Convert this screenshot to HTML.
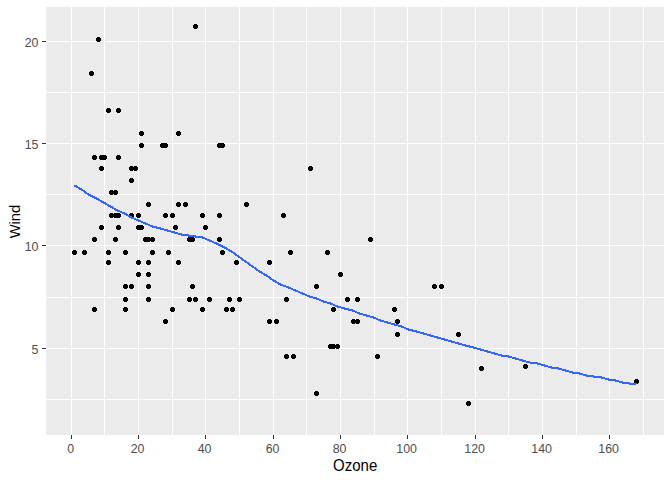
<!DOCTYPE html><html><head><meta charset="utf-8"><style>html,body{margin:0;padding:0;background:#fff}svg{display:block}text{font-family:"Liberation Sans",sans-serif}</style></head><body>
<svg width="672" height="480" viewBox="0 0 672 480">
<rect width="672" height="480" fill="#fff"/>
<rect x="46.0" y="7.00" width="618.00" height="428.00" fill="#EBEBEB" shape-rendering="crispEdges"/>
<g fill="#fff" shape-rendering="crispEdges">
<rect x="71" y="7" width="1" height="428"/>
<rect x="104" y="7" width="1" height="428"/>
<rect x="138" y="7" width="1" height="428"/>
<rect x="172" y="7" width="1" height="428"/>
<rect x="205" y="7" width="1" height="428"/>
<rect x="239" y="7" width="1" height="428"/>
<rect x="273" y="7" width="1" height="428"/>
<rect x="306" y="7" width="1" height="428"/>
<rect x="340" y="7" width="1" height="428"/>
<rect x="374" y="7" width="1" height="428"/>
<rect x="407" y="7" width="1" height="428"/>
<rect x="441" y="7" width="1" height="428"/>
<rect x="475" y="7" width="1" height="428"/>
<rect x="508" y="7" width="1" height="428"/>
<rect x="542" y="7" width="1" height="428"/>
<rect x="576" y="7" width="1" height="428"/>
<rect x="609" y="7" width="1" height="428"/>
<rect x="643" y="7" width="1" height="428"/>
<rect x="46" y="399" width="618" height="1"/>
<rect x="46" y="348" width="618" height="1"/>
<rect x="46" y="297" width="618" height="1"/>
<rect x="46" y="245" width="618" height="1"/>
<rect x="46" y="194" width="618" height="1"/>
<rect x="46" y="143" width="618" height="1"/>
<rect x="46" y="92" width="618" height="1"/>
<rect x="46" y="41" width="618" height="1"/>
</g>
<g fill="#000" shape-rendering="crispEdges">
<path d="M208 297h3v1h1v3h-1v1h-3v-1h-1v-3h1zM191 284h3v1h1v3h-1v1h-3v-1h-1v-3h1zM110 190h3v1h1v3h-1v1h-3v-1h-1v-3h1zM130 213h3v1h1v3h-1v1h-3v-1h-1v-3h1zM164 143h3v1h1v3h-1v1h-3v-1h-1v-3h1zM147 272h3v1h1v3h-1v1h-3v-1h-1v-3h1zM134 166h3v1h1v3h-1v1h-3v-1h-1v-3h1zM97 37h3v1h1v3h-1v1h-3v-1h-1v-3h1zM93 307h3v1h1v3h-1v1h-3v-1h-1v-3h1zM124 250h3v1h1v3h-1v1h-3v-1h-1v-3h1zM107 260h3v1h1v3h-1v1h-3v-1h-1v-3h1zM117 225h3v1h1v3h-1v1h-3v-1h-1v-3h1zM130 178h3v1h1v3h-1v1h-3v-1h-1v-3h1zM117 213h3v1h1v3h-1v1h-3v-1h-1v-3h1zM184 202h3v1h1v3h-1v1h-3v-1h-1v-3h1zM90 71h3v1h1v3h-1v1h-3v-1h-1v-3h1zM171 213h3v1h1v3h-1v1h-3v-1h-1v-3h1zM107 250h3v1h1v3h-1v1h-3v-1h-1v-3h1zM73 250h3v1h1v3h-1v1h-3v-1h-1v-3h1zM107 108h3v1h1v3h-1v1h-3v-1h-1v-3h1zM83 250h3v1h1v3h-1v1h-3v-1h-1v-3h1zM177 202h3v1h1v3h-1v1h-3v-1h-1v-3h1zM147 202h3v1h1v3h-1v1h-3v-1h-1v-3h1zM221 143h3v1h1v3h-1v1h-3v-1h-1v-3h1zM457 332h3v1h1v3h-1v1h-3v-1h-1v-3h1zM194 297h3v1h1v3h-1v1h-3v-1h-1v-3h1zM167 250h3v1h1v3h-1v1h-3v-1h-1v-3h1zM309 166h3v1h1v3h-1v1h-3v-1h-1v-3h1zM201 213h3v1h1v3h-1v1h-3v-1h-1v-3h1zM147 284h3v1h1v3h-1v1h-3v-1h-1v-3h1zM140 143h3v1h1v3h-1v1h-3v-1h-1v-3h1zM194 24h3v1h1v3h-1v1h-3v-1h-1v-3h1zM137 260h3v1h1v3h-1v1h-3v-1h-1v-3h1zM110 213h3v1h1v3h-1v1h-3v-1h-1v-3h1zM114 237h3v1h1v3h-1v1h-3v-1h-1v-3h1zM524 364h3v1h1v3h-1v1h-3v-1h-1v-3h1zM235 260h3v1h1v3h-1v1h-3v-1h-1v-3h1zM177 260h3v1h1v3h-1v1h-3v-1h-1v-3h1zM285 354h3v1h1v3h-1v1h-3v-1h-1v-3h1zM204 225h3v1h1v3h-1v1h-3v-1h-1v-3h1zM329 344h3v1h1v3h-1v1h-3v-1h-1v-3h1zM396 319h3v1h1v3h-1v1h-3v-1h-1v-3h1zM396 332h3v1h1v3h-1v1h-3v-1h-1v-3h1zM356 297h3v1h1v3h-1v1h-3v-1h-1v-3h1zM103 155h3v1h1v3h-1v1h-3v-1h-1v-3h1zM161 143h3v1h1v3h-1v1h-3v-1h-1v-3h1zM93 155h3v1h1v3h-1v1h-3v-1h-1v-3h1zM231 307h3v1h1v3h-1v1h-3v-1h-1v-3h1zM188 237h3v1h1v3h-1v1h-3v-1h-1v-3h1zM275 319h3v1h1v3h-1v1h-3v-1h-1v-3h1zM336 344h3v1h1v3h-1v1h-3v-1h-1v-3h1zM282 213h3v1h1v3h-1v1h-3v-1h-1v-3h1zM124 307h3v1h1v3h-1v1h-3v-1h-1v-3h1zM339 272h3v1h1v3h-1v1h-3v-1h-1v-3h1zM433 284h3v1h1v3h-1v1h-3v-1h-1v-3h1zM137 272h3v1h1v3h-1v1h-3v-1h-1v-3h1zM245 202h3v1h1v3h-1v1h-3v-1h-1v-3h1zM346 297h3v1h1v3h-1v1h-3v-1h-1v-3h1zM238 297h3v1h1v3h-1v1h-3v-1h-1v-3h1zM285 297h3v1h1v3h-1v1h-3v-1h-1v-3h1zM268 260h3v1h1v3h-1v1h-3v-1h-1v-3h1zM201 307h3v1h1v3h-1v1h-3v-1h-1v-3h1zM100 166h3v1h1v3h-1v1h-3v-1h-1v-3h1zM124 297h3v1h1v3h-1v1h-3v-1h-1v-3h1zM332 307h3v1h1v3h-1v1h-3v-1h-1v-3h1zM188 297h3v1h1v3h-1v1h-3v-1h-1v-3h1zM292 354h3v1h1v3h-1v1h-3v-1h-1v-3h1zM480 366h3v1h1v3h-1v1h-3v-1h-1v-3h1zM369 237h3v1h1v3h-1v1h-3v-1h-1v-3h1zM440 284h3v1h1v3h-1v1h-3v-1h-1v-3h1zM218 213h3v1h1v3h-1v1h-3v-1h-1v-3h1zM164 213h3v1h1v3h-1v1h-3v-1h-1v-3h1zM289 250h3v1h1v3h-1v1h-3v-1h-1v-3h1zM144 237h3v1h1v3h-1v1h-3v-1h-1v-3h1zM268 319h3v1h1v3h-1v1h-3v-1h-1v-3h1zM147 297h3v1h1v3h-1v1h-3v-1h-1v-3h1zM174 225h3v1h1v3h-1v1h-3v-1h-1v-3h1zM218 237h3v1h1v3h-1v1h-3v-1h-1v-3h1zM140 131h3v1h1v3h-1v1h-3v-1h-1v-3h1zM100 155h3v1h1v3h-1v1h-3v-1h-1v-3h1zM221 250h3v1h1v3h-1v1h-3v-1h-1v-3h1zM635 379h3v1h1v3h-1v1h-3v-1h-1v-3h1zM315 284h3v1h1v3h-1v1h-3v-1h-1v-3h1zM326 250h3v1h1v3h-1v1h-3v-1h-1v-3h1zM467 401h3v1h1v3h-1v1h-3v-1h-1v-3h1zM352 319h3v1h1v3h-1v1h-3v-1h-1v-3h1zM356 319h3v1h1v3h-1v1h-3v-1h-1v-3h1zM393 307h3v1h1v3h-1v1h-3v-1h-1v-3h1zM332 344h3v1h1v3h-1v1h-3v-1h-1v-3h1zM315 391h3v1h1v3h-1v1h-3v-1h-1v-3h1zM376 354h3v1h1v3h-1v1h-3v-1h-1v-3h1zM228 297h3v1h1v3h-1v1h-3v-1h-1v-3h1zM177 131h3v1h1v3h-1v1h-3v-1h-1v-3h1zM137 225h3v1h1v3h-1v1h-3v-1h-1v-3h1zM147 237h3v1h1v3h-1v1h-3v-1h-1v-3h1zM140 225h3v1h1v3h-1v1h-3v-1h-1v-3h1zM151 250h3v1h1v3h-1v1h-3v-1h-1v-3h1zM218 143h3v1h1v3h-1v1h-3v-1h-1v-3h1zM164 319h3v1h1v3h-1v1h-3v-1h-1v-3h1zM100 225h3v1h1v3h-1v1h-3v-1h-1v-3h1zM114 213h3v1h1v3h-1v1h-3v-1h-1v-3h1zM225 307h3v1h1v3h-1v1h-3v-1h-1v-3h1zM130 166h3v1h1v3h-1v1h-3v-1h-1v-3h1zM151 237h3v1h1v3h-1v1h-3v-1h-1v-3h1zM124 284h3v1h1v3h-1v1h-3v-1h-1v-3h1zM114 190h3v1h1v3h-1v1h-3v-1h-1v-3h1zM147 260h3v1h1v3h-1v1h-3v-1h-1v-3h1zM191 237h3v1h1v3h-1v1h-3v-1h-1v-3h1zM93 237h3v1h1v3h-1v1h-3v-1h-1v-3h1zM117 108h3v1h1v3h-1v1h-3v-1h-1v-3h1zM171 307h3v1h1v3h-1v1h-3v-1h-1v-3h1zM117 155h3v1h1v3h-1v1h-3v-1h-1v-3h1zM130 284h3v1h1v3h-1v1h-3v-1h-1v-3h1zM137 213h3v1h1v3h-1v1h-3v-1h-1v-3h1z"/>
</g>
<path d="M74.5 185.5 L81.5 189.5 L88.5 194.5 L96.5 198.5 L103.5 202.5 L110.5 206.5 L117.5 210.5 L124.5 213.5 L131.5 217.5 L138.5 220.5 L145.5 223.5 L152.5 226.5 L160.5 228.5 L167.5 230.5 L174.5 232.5 L181.5 234.5 L188.5 235.5 L195.5 236.5 L202.5 237.5 L209.5 240.5 L216.5 243.5 L224.5 247.5 L231.5 251.5 L238.5 256.5 L245.5 261.5 L252.5 266.5 L259.5 271.5 L266.5 275.5 L273.5 280.5 L280.5 284.5 L288.5 287.5 L295.5 290.5 L302.5 293.5 L309.5 296.5 L316.5 298.5 L323.5 301.5 L330.5 303.5 L337.5 306.5 L344.5 308.5 L352.5 310.5 L359.5 313.5 L366.5 315.5 L373.5 317.5 L380.5 320.5 L387.5 322.5 L394.5 324.5 L401.5 326.5 L408.5 329.5 L416.5 331.5 L423.5 333.5 L430.5 335.5 L437.5 337.5 L444.5 339.5 L451.5 341.5 L458.5 343.5 L465.5 345.5 L473.5 347.5 L480.5 349.5 L487.5 351.5 L494.5 353.5 L501.5 355.5 L508.5 356.5 L515.5 358.5 L522.5 360.5 L529.5 362.5 L537.5 363.5 L544.5 365.5 L551.5 367.5 L558.5 368.5 L565.5 370.5 L572.5 372.5 L579.5 373.5 L586.5 375.5 L593.5 376.5 L601.5 377.5 L608.5 379.5 L615.5 380.5 L622.5 382.5 L629.5 383.5 L636.5 384.5" fill="none" stroke="#3366FF" stroke-width="2" stroke-linejoin="round" stroke-linecap="butt" shape-rendering="crispEdges"/>
<g fill="#333" shape-rendering="crispEdges">
<rect x="71" y="435" width="1" height="4"/>
<rect x="138" y="435" width="1" height="4"/>
<rect x="205" y="435" width="1" height="4"/>
<rect x="273" y="435" width="1" height="4"/>
<rect x="340" y="435" width="1" height="4"/>
<rect x="407" y="435" width="1" height="4"/>
<rect x="475" y="435" width="1" height="4"/>
<rect x="542" y="435" width="1" height="4"/>
<rect x="609" y="435" width="1" height="4"/>
<rect x="42" y="348" width="4" height="1"/>
<rect x="42" y="245" width="4" height="1"/>
<rect x="42" y="143" width="4" height="1"/>
<rect x="42" y="41" width="4" height="1"/>
</g>
<g fill="#4D4D4D" font-size="12.4px">
<text x="70.60" y="453" text-anchor="middle">0</text>
<text x="137.60" y="453" text-anchor="middle">20</text>
<text x="204.60" y="453" text-anchor="middle">40</text>
<text x="272.60" y="453" text-anchor="middle">60</text>
<text x="339.60" y="453" text-anchor="middle">80</text>
<text x="406.60" y="453" text-anchor="middle">100</text>
<text x="474.60" y="453" text-anchor="middle">120</text>
<text x="541.60" y="453" text-anchor="middle">140</text>
<text x="608.60" y="453" text-anchor="middle">160</text>
<text x="38.5" y="354" text-anchor="end">5</text>
<text x="38.5" y="251" text-anchor="end">10</text>
<text x="38.5" y="149" text-anchor="end">15</text>
<text x="38.5" y="47" text-anchor="end">20</text>
</g>
<text transform="translate(355.2,470.5) scale(1,1.04)" text-anchor="middle" font-size="15px" fill="#000">Ozone</text>
<text transform="translate(19.5,221.6) rotate(-90)" text-anchor="middle" font-size="14.7px" fill="#000">Wind</text>
</svg></body></html>
